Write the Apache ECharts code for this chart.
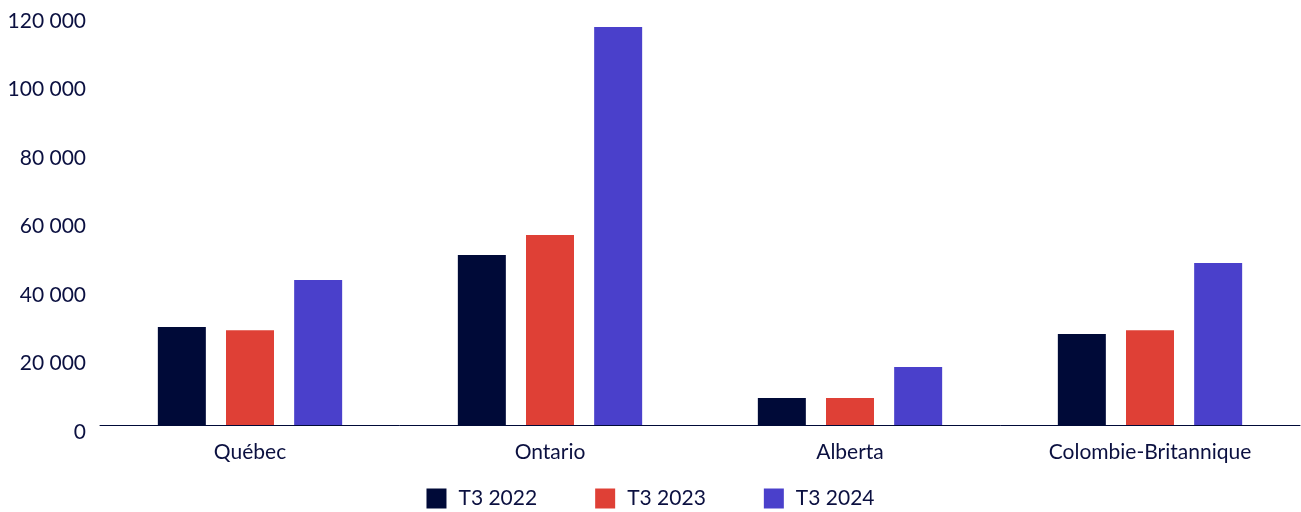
<!DOCTYPE html>
<html>
<head>
<meta charset="utf-8">
<script src="https://cdn.jsdelivr.net/npm/echarts@6/dist/echarts.min.js"></script>
<style>
  html, body { margin: 0; padding: 0; background: #ffffff; }
  #chart { width: 1301px; height: 512px; }
</style>
</head>
<body>
<div id="chart"></div>
<script>
// Provinces on the category axis
const provinces = ['Québec', 'Ontario', 'Alberta', 'Colombie-Britannique'];

// Quarterly values per province
const seriesNames = ['T3 2022', 'T3 2023', 'T3 2024'];
const t3_2022 = [28600, 49600, 7900, 26600];
const t3_2023 = [27700, 55500, 7900, 27700];
const t3_2024 = [42300, 116200, 16900, 47300];

// Value axis range
const yMin = 0;
const yMax = 120000;
const yStep = 20000;

const colors = ['#000a38', '#df4036', '#4a40cb'];
const textColor = '#0b1040';
const fontFamily = 'Lato, "Open Sans", sans-serif';

function formatThousands(v) {
  return String(v).replace(/\B(?=(\d{3})+(?!\d))/g, ' ');
}

const chart = echarts.init(document.getElementById('chart'), null, { renderer: 'canvas' });

const values = [t3_2022, t3_2023, t3_2024];

chart.setOption({
  animation: false,
  backgroundColor: '#ffffff',
  color: colors,
  grid: { left: 100, right: 1, top: 14, bottom: 87, containLabel: false },
  legend: {
    top: 488,
    left: 'center',
    padding: 0,
    itemWidth: 20,
    itemHeight: 20,
    itemGap: 58,
    icon: 'rect',
    textStyle: { color: textColor, fontSize: 21, fontFamily: fontFamily, padding: [0, 0, 0, 7] },
    data: seriesNames
  },
  xAxis: {
    type: 'category',
    data: provinces,
    axisLine: { lineStyle: { color: '#000a38', width: 1 } },
    axisTick: { show: false },
    axisLabel: { color: textColor, fontSize: 21, fontFamily: fontFamily, margin: 17 }
  },
  yAxis: {
    type: 'value',
    min: yMin,
    max: yMax,
    interval: yStep,
    axisLine: { show: false },
    axisTick: { show: false },
    splitLine: { show: false },
    axisLabel: {
      color: textColor,
      fontSize: 21,
      fontFamily: fontFamily,
      margin: 14,
      verticalAlign: 'top',
      lineHeight: 14,
      formatter: formatThousands
    }
  },
  series: seriesNames.map((name, i) => ({
    name: name,
    type: 'bar',
    data: values[i],
    barWidth: 48,
    barGap: '42%',
    itemStyle: { color: colors[i] }
  }))
});
</script>
</body>
</html>
